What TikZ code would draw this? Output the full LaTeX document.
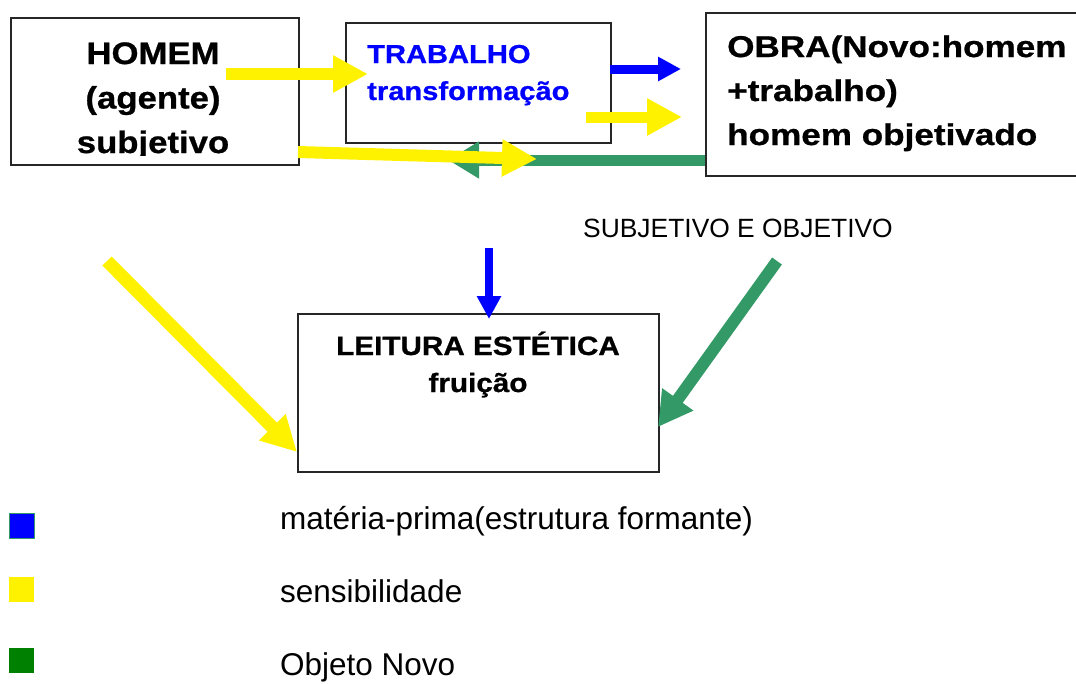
\documentclass[tikz,border=0pt]{standalone}
\usepackage{fontspec}
\setmainfont{Liberation Sans}
\newfontfamily\blk{Liberation Sans}[FakeStretch=1.12,FakeBold=0.8]
\newfontfamily\blkw{Liberation Sans}[FakeStretch=1.17,FakeBold=0.8]
\usetikzlibrary{arrows.meta}
\definecolor{arrgreen}{HTML}{339966}
\definecolor{leggreen}{HTML}{008000}
\tikzset{
  box/.style={draw=black!85, line width=1.8pt, inner sep=0pt, anchor=north west},
  btxt/.style={inner sep=0pt, font=\blk\bfseries},
  rtxt/.style={inner sep=0pt, anchor=base west},
  yarr/.style={draw=yellow, line width=#1, -{Triangle[length=35pt,width=35pt]}},
  barr/.style={draw=blue, line width=#1, -{Triangle[length=23pt,width=23pt]}},
  garr/.style={draw=arrgreen, line width=#1, -{Triangle[length=31pt,width=35pt]}},
  legsq/.style={minimum size=25pt, inner sep=0pt, anchor=north west}
}
\begin{document}
\begin{tikzpicture}[x=1pt,y=-1pt]
\useasboundingbox (0,0) rectangle (1076,683);
% boxes
\node[box, minimum width=288pt, minimum height=147pt] (homem) at (10,17) {};
\node[box, minimum width=265pt, minimum height=120pt] (trab) at (345,22) {};
\node[box, minimum width=380pt, minimum height=163pt] (obra) at (705,12) {};
\node[box, minimum width=361pt, minimum height=158pt] (leit) at (297,313) {};
% texts (base anchor = baseline of the last line)
\begin{scope}
\clip (10,17) rectangle (298,155.5);
\node[btxt, anchor=base, align=center, font=\blk\bfseries\fontsize{31}{44.5}\selectfont] (thomem) at (153,153) {HOMEM\\(agente)\\subjetivo};
\end{scope}
\node[btxt, anchor=base west, align=left, text=blue, font=\blk\bfseries\fontsize{26}{37}\selectfont] (ttrab) at (367,100) {TRABALHO\\transformação};
\node[btxt, anchor=base west, align=left, font=\blkw\bfseries\fontsize{30}{44}\selectfont] (tobra) at (727,145) {OBRA(Novo:homem\\+trabalho)\\homem objetivado};
\node[btxt, anchor=base, align=center, font=\blk\bfseries\fontsize{26.5}{37}\selectfont] (tleit) at (478,392) {LEITURA ESTÉTICA\\fruição};
\node[rtxt, font=\fontsize{26.4}{30}\selectfont] (tsub) at (583,237) {SUBJETIVO E OBJETIVO};
% coordinates for arrows
\coordinate (a1s) at (226,74);  \coordinate (a1e) at (368,74);
\coordinate (a2s) at (610,69);  \coordinate (a2e) at (681,69);
\coordinate (a3s) at (586,117); \coordinate (a3e) at (682,117);
\coordinate (a4s) at (298,152); \coordinate (a4e) at (537,159);
\coordinate (a5s) at (705,160); \coordinate (a5e) at (448,160);
\coordinate (a6s) at (489,248); \coordinate (a6e) at (489,319);
\coordinate (a7s) at (107,261); \coordinate (a7e) at (297,452);
\coordinate (a8s) at (777,261); \coordinate (a8e) at (658,427);
% arrows
\draw[garr=11pt] (a5s) -- (a5e);
\draw[yarr=12pt] (a4s) -- (a4e);
\draw[yarr=12pt] (a1s) -- (a1e);
\draw[barr=9pt] (a2s) -- (a2e);
\draw[yarr=11pt] (a3s) -- (a3e);
\draw[barr=8pt] (a6s) -- (a6e);
\draw[yarr=13pt] (a7s) -- (a7e);
\draw[garr=12pt, -{Triangle[length=34pt,width=36pt]}] (a8s) -- (a8e);
% legend
\node[legsq, fill=blue, draw=arrgreen, line width=0.8pt] (lb) at (9,513) {};
\node[legsq, fill=yellow] (ly) at (9,577) {};
\node[legsq, fill=leggreen] (lg) at (9,648) {};
\node[rtxt, font=\fontsize{31.5}{36}\selectfont] (tlb) at (280,529) {matéria-prima(estrutura formante)};
\node[rtxt, font=\fontsize{31.5}{36}\selectfont] (tly) at (280,602) {sensibilidade};
\node[rtxt, font=\fontsize{31.5}{36}\selectfont] (tlg) at (280,675) {Objeto Novo};
\end{tikzpicture}
\end{document}
